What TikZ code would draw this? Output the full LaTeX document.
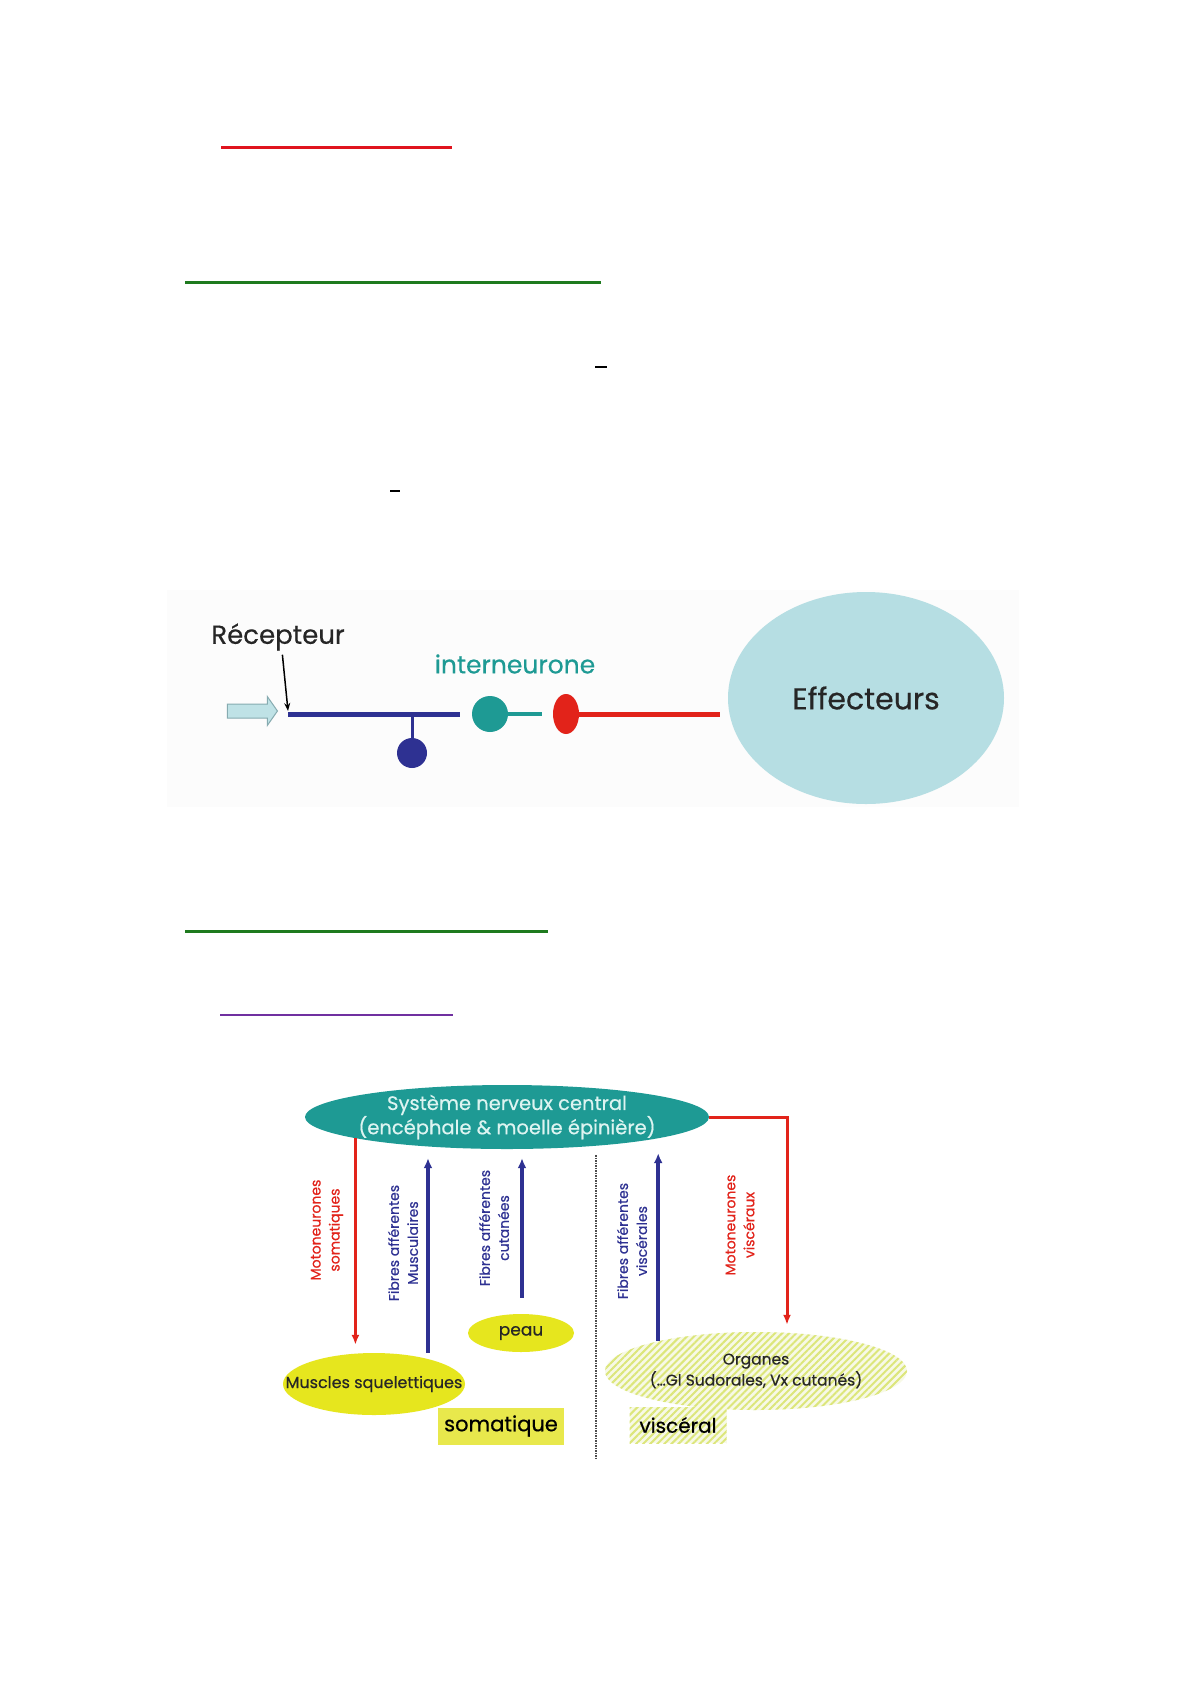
\documentclass[tikz,border=0pt]{standalone}
\usepackage{fontspec}
\setmainfont{Poppins}[FakeBold=0.5]
\usepackage{tikz}
\usetikzlibrary{arrows.meta,backgrounds,calc,patterns.meta,positioning,shapes.geometric,shapes.arrows}
\definecolor{snred}{HTML}{E2231A}
\definecolor{snblue}{HTML}{2E3192}
\definecolor{snteal}{HTML}{1E9A94}
\definecolor{sntext}{HTML}{DDF4F1}
\definecolor{efblue}{HTML}{B6DEE3}
\definecolor{stimfill}{HTML}{BFE2E6}
\definecolor{stimedge}{HTML}{86ABB0}
\definecolor{snyellow}{HTML}{E6E61E}
\definecolor{somyellow}{HTML}{E8E84C}
\definecolor{hatch}{HTML}{DCE67A}
\definecolor{hatchbg}{HTML}{F7F9E6}
\definecolor{titlered}{HTML}{E0141E}
\definecolor{titlegreen}{HTML}{1E7A1E}
\definecolor{titlepurple}{HTML}{7030A0}

\begin{document}
\begin{tikzpicture}[x=1pt,y=-1pt,
  motor/.style={draw=snred,line width=3pt,-{Latex[length=10pt,width=8pt]}},
  afferent/.style={draw=snblue,line width=3.5pt,-{Latex[length=10pt,width=9pt]}},
  fiblabel/.style={rotate=90,align=center,inner sep=0pt,font=\fontsize{14}{19}\selectfont},
  organ/.style={ellipse,inner sep=0pt,align=center,text=black!85}]
\tikzset{hatched/.style={fill=hatchbg,postaction={pattern={Lines[angle=45,distance=5pt,line width=2pt]},pattern color=hatch}}}
\useasboundingbox (0,0) rectangle (1191,1684);
\fill[white] (0,0) rectangle (1191,1684);
% title underlines
\draw[titlered,line width=3pt] (221,147) -- (452,147);
\draw[titlegreen,line width=3pt] (185,282) -- (601,282);
\draw[black,line width=2pt] (595,367) -- (607,367);
\draw[black,line width=2pt] (390,491) -- (400,491);
\draw[titlegreen,line width=3pt] (185,931) -- (548,931);
\draw[titlepurple,line width=2pt] (220,1015) -- (453,1015);
% reflex arc
\fill[black!1] (167,590) rectangle (1019,807);
\node[font=\fontsize{26}{30}\selectfont,text=black!85,inner sep=0pt] (recep) at (278,637) {Récepteur};
\coordinate (rtip) at (288,711);
\draw[line width=1.5pt,-{Stealth[length=8pt,width=6pt]},shorten <=4pt] ([xshift=4pt]recep.south) -- (rtip);
\node[single arrow,draw=stimedge,fill=stimfill,line width=1pt,minimum height=50pt,inner xsep=0pt,inner ysep=6.5pt,
  single arrow head extend=7.5pt,single arrow tip angle=110] (stim) at (250,711) {};
\coordinate (axstart) at (288,714);
\coordinate (axend) at (460,714);
\draw[snblue,line width=5pt] (axstart) -- (axend);
\node[circle,fill=snblue,minimum size=30pt,inner sep=0pt] (gang) at (412,753) {};
\draw[snblue,line width=3pt] (gang) -- (gang |- axstart);
\node[circle,fill=snteal,minimum size=36pt,inner sep=0pt] (inter) at (490,714) {};
\coordinate (syn) at (542,714);
\draw[snteal,line width=4pt] (inter) -- (syn);
\node[ellipse,fill=snred,minimum width=26pt,minimum height=40pt,inner sep=0pt] (moto) at (566,714) {};
\node[organ,fill=efblue,minimum width=276pt,minimum height=212pt,font=\fontsize{30}{34}\selectfont] (eff) at (866,698) {Effecteurs};
\draw[snred,line width=5pt,shorten >=8pt] (moto) -- (moto -| eff.west);
\node[text=snteal,font=\fontsize{25}{28}\selectfont] (interlbl) at (515,664) {interneurone};
% somatique / visceral
\node[organ,fill=snteal,text=sntext,minimum width=404pt,minimum height=64pt,font=\fontsize{19.5}{23}\selectfont] (snc) at (507,1117)
  {\makebox[0pt]{Système nerveux central}\\\makebox[0pt]{(encéphale \& moelle épinière)}};
\node[organ,fill=snyellow,minimum width=182pt,minimum height=62pt,font=\fontsize{16}{18}\selectfont] (musc) at (374,1384)
  {\makebox[0pt]{Muscles squelettiques}};
\node[organ,fill=snyellow,minimum width=106pt,minimum height=38pt,font=\fontsize{17}{20}\selectfont] (peau) at (521,1333) {peau};
\node[organ,hatched,minimum width=302pt,minimum height=78pt,font=\fontsize{15.5}{21}\selectfont] (org) at (756,1371)
  {\makebox[0pt]{Organes}\\\makebox[0pt]{(\ldots Gl Sudorales, Vx cutanés)}};
\node[fill=somyellow,minimum width=126pt,minimum height=37pt,inner sep=0pt,font=\fontsize{21}{24}\selectfont] (som) at (501,1426) {somatique};
\node[hatched,minimum width=97pt,minimum height=36pt,inner sep=0pt,font=\fontsize{20}{24}\selectfont] (visc) at (678,1425) {viscéral};
\coordinate (divtop) at (596,1155);
\coordinate (divbot) at (596,1460);
\draw[black!70,line width=1.5pt,densely dotted] (divtop) -- (divbot);
\draw[motor,shorten >=8pt] (snc.188) -- (snc.188 |- musc.north);
\draw[afferent,shorten >=9pt] ([xshift=54pt]musc.north) -- ([xshift=-79pt]snc.south);
\draw[afferent,shorten <=16pt,shorten >=9pt] ([xshift=1pt]peau.north) -- ([xshift=15pt]snc.south);
\draw[afferent,shorten >=4pt] (org.163) -- (org.163 |- snc.south);
\draw[motor,shorten >=7pt] (snc.east) -| ([xshift=31pt]org.north);
\node[fiblabel,text=snred] (lmsom) at (327,1230) {Motoneurones\\somatiques};
\node[fiblabel,text=snblue] (lfmus) at (403,1243) {Fibres afférentes\\Musculaires};
\node[fiblabel,text=snblue] (lfcut) at (494,1228) {Fibres afférentes\\cutanées};
\node[fiblabel,text=snblue] (lfvis) at (632,1241) {Fibres afférentes\\viscérales};
\node[fiblabel,text=snred] (lmvis) at (740,1225) {Motoneurones\\viscéraux};
\end{tikzpicture}
\end{document}
